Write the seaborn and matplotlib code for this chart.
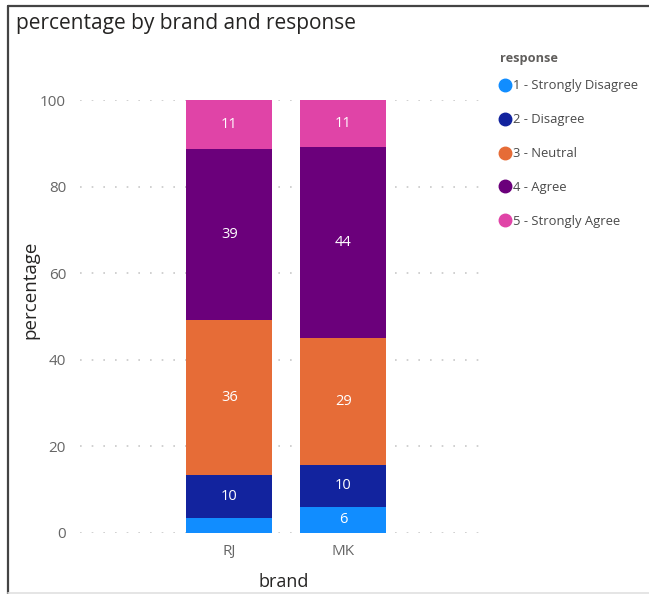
import matplotlib
matplotlib.use("Agg")
import matplotlib.pyplot as plt
from matplotlib.lines import Line2D
import numpy as np
import pandas as pd
import seaborn as sns

# Survey responses per brand (percent of respondents)
brands = ["RJ", "MK"]
responses = ["1 - Strongly Disagree", "2 - Disagree", "3 - Neutral",
             "4 - Agree", "5 - Strongly Agree"]
rj_pct = [3.4, 9.9, 35.9, 39.4, 11.4]
mk_pct = [6.1, 9.6, 29.3, 44.2, 10.8]
colors = ["#118DFF", "#12239E", "#E66C37", "#6B007B", "#E044A7"]

values = np.array([rj_pct, mk_pct])          # shape (brand, response)
tops = values.cumsum(axis=1)
bottoms = tops - values

sns.set_theme(style="white")
plt.rcParams["font.family"] = ["Open Sans", "DejaVu Sans"]

W, H = 649, 594
fig = plt.figure(figsize=(W / 100, H / 100), dpi=100)
fig.patch.set_facecolor("white")

# axes placed in pixel terms
ax_l, ax_r, ax_t, ax_b = 80, 488, 100, 533
ax = fig.add_axes([ax_l / W, (H - ax_b) / H, (ax_r - ax_l) / W, (ax_b - ax_t) / H])

# stacked bars: draw cumulative totals from the top layer down
for j in range(len(responses) - 1, -1, -1):
    layer = pd.DataFrame({"brand": brands, "top": tops[:, j]})
    sns.barplot(data=layer, x="brand", y="top", order=brands, color=colors[j],
                width=0.754, saturation=1, ax=ax, zorder=2, linewidth=0)

# value labels in each segment
for i, b in enumerate(brands):
    for j in range(len(responses)):
        v = values[i, j]
        if v < 5:
            continue
        ax.text(i, bottoms[i, j] + v / 2, f"{round(v):d}", ha="center", va="center",
                color="white", fontsize=10.5, zorder=3)

ax.set_xlim(-1.31, 2.27)
ax.set_ylim(0, 100)
ax.set_yticks([0, 20, 40, 60, 80, 100])
ax.yaxis.grid(True, color="#c8c8c8", linestyle=(0, (1, 6)), linewidth=1.2, zorder=0)
ax.xaxis.grid(False)
for s in ax.spines.values():
    s.set_visible(False)
ax.tick_params(axis="both", length=0, colors="#666666", labelsize=11)
ax.tick_params(axis="y", pad=10)
ax.tick_params(axis="x", pad=8)

ax.set_ylabel("percentage", fontsize=13.5, color="#252423")
ax.set_xlabel("brand", fontsize=13, color="#252423")
ax.yaxis.set_label_coords(-0.10, 0.561)
ax.xaxis.set_label_coords(0.5, -0.092)

fig.text(16 / W, 1 - 23 / H, "percentage by brand and response", fontsize=15,
         color="#252423", ha="left", va="center")

# legend with round markers
handles = [Line2D([0], [0], marker="o", linestyle="none", markersize=9,
                  markerfacecolor=c, markeredgecolor=c) for c in colors]
leg = fig.legend(handles, responses, title="response", loc="upper left",
                 bbox_to_anchor=(488 / W, 1 - 40 / H), frameon=False,
                 fontsize=9.4, title_fontsize=9.2, handlelength=0.8,
                 handletextpad=0.2, labelspacing=1.6, alignment="left",
                 labelcolor="#4a4a4a")
leg._legend_box.sep = 10.5   # tighter gap under the legend title
leg.get_title().set_fontweight("bold")
leg.get_title().set_color("#605E5C")

# panel frame: dark left and top edges, light bottom edge
fig.add_artist(Line2D([7.5 / W, 7.5 / W], [0, 1 - 6 / H], transform=fig.transFigure,
                      color="#444444", linewidth=1.6))
fig.add_artist(Line2D([7.5 / W, 1], [1 - 6 / H, 1 - 6 / H], transform=fig.transFigure,
                      color="#444444", linewidth=1.6))
fig.add_artist(Line2D([7.5 / W, 1], [1.5 / H, 1.5 / H], transform=fig.transFigure,
                      color="#e0e0e0", linewidth=1.2))

fig.savefig("out.png", dpi=100, facecolor="white")
